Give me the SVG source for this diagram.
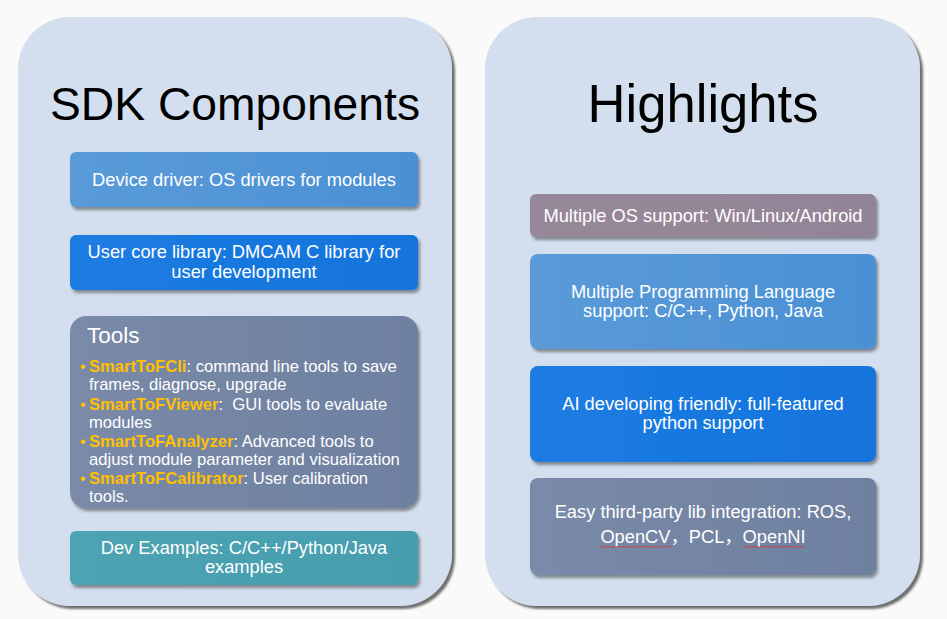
<svg xmlns="http://www.w3.org/2000/svg" width="947" height="619" viewBox="0 0 947 619">
<style>
  .panel{fill:#d3dfee;filter:url(#ps);}
  .box{filter:url(#bs);}
  .t{font-family:"Liberation Sans",Arial,"Noto Sans CJK SC",sans-serif;fill:#fff;font-size:18.3px;text-anchor:middle;}
  .title{font-family:"Liberation Sans",Arial,sans-serif;fill:#000;text-anchor:middle;}
  .tl{font-family:"Liberation Sans",Arial,sans-serif;fill:#fff;font-size:16.6px;}
  .o{fill:#ffc000;font-weight:bold;}
  .sq{fill:none;stroke:#e03030;stroke-width:0.8;}
</style>
<defs>
  <filter id="ps" x="-5%" y="-5%" width="112%" height="112%">
    <feDropShadow dx="3" dy="3" stdDeviation="1.2" flood-color="#404040" flood-opacity="0.75"/>
  </filter>
  <filter id="bs" x="-5%" y="-10%" width="112%" height="130%">
    <feDropShadow dx="2" dy="3" stdDeviation="1.5" flood-color="#303030" flood-opacity="0.5"/>
  </filter>
  <linearGradient id="gLight" x1="0" y1="0" x2="1" y2="0">
    <stop offset="0" stop-color="#5a9bd8"/><stop offset="1" stop-color="#4a90d4"/>
  </linearGradient>
  <linearGradient id="gDark" x1="0" y1="0" x2="1" y2="0">
    <stop offset="0" stop-color="#1c7ce2"/><stop offset="1" stop-color="#1474dc"/>
  </linearGradient>
  <linearGradient id="gGray" x1="0" y1="0" x2="1" y2="0">
    <stop offset="0" stop-color="#7a8aa8"/><stop offset="1" stop-color="#6e80a0"/>
  </linearGradient>
  <linearGradient id="gTeal" x1="0" y1="0" x2="1" y2="0">
    <stop offset="0" stop-color="#4ea3b2"/><stop offset="1" stop-color="#459eae"/>
  </linearGradient>
  <linearGradient id="gMauve" x1="0" y1="0" x2="1" y2="0">
    <stop offset="0" stop-color="#978899"/><stop offset="1" stop-color="#928496"/>
  </linearGradient>
</defs>
<rect width="947" height="619" fill="#fafafa"/>

<g id="sdk-panel">
  <rect class="panel" x="18" y="17" width="434" height="589" rx="52"/>
  <text class="title" x="235" y="120" font-size="47" textLength="370" lengthAdjust="spacingAndGlyphs">SDK Components</text>
</g>
<g id="highlights-panel">
  <rect class="panel" x="485" y="17" width="435" height="589" rx="52"/>
  <text class="title" x="703" y="122" font-size="53" textLength="231" lengthAdjust="spacingAndGlyphs">Highlights</text>
</g>

<g id="device-driver">
  <rect class="box" x="70" y="152" width="348" height="55" rx="6" fill="url(#gLight)"/>
  <text class="t" x="244" y="186">Device driver: OS drivers for modules</text>
</g>
<g id="user-core">
  <rect class="box" x="70" y="235" width="348" height="55" rx="6" fill="url(#gDark)"/>
  <text class="t" x="244" y="258">User core library: DMCAM C library for</text>
  <text class="t" x="244" y="278">user development</text>
</g>
<g id="tools">
  <rect class="box" x="70" y="316" width="348" height="192" rx="16" fill="url(#gGray)"/>
  <text class="tl" x="87" y="343" style="font-size:22.5px">Tools</text>
  <text class="tl o" x="80" y="372" style="font-size:16px;font-weight:normal">•</text>
  <text class="tl o" x="80" y="410" style="font-size:16px;font-weight:normal">•</text>
  <text class="tl o" x="80" y="447" style="font-size:16px;font-weight:normal">•</text>
  <text class="tl o" x="80" y="484" style="font-size:16px;font-weight:normal">•</text>
  <text class="tl" x="89" y="372"><tspan class="o">SmartToFCli</tspan>: command line tools to save</text>
  <text class="tl" x="89" y="390">frames, diagnose, upgrade</text>
  <text class="tl" x="89" y="410" xml:space="preserve"><tspan class="o">SmartToFViewer</tspan>:  GUI tools to evaluate</text>
  <text class="tl" x="89" y="428">modules</text>
  <text class="tl" x="89" y="447"><tspan class="o">SmartToFAnalyzer</tspan>: Advanced tools to</text>
  <text class="tl" x="89" y="465">adjust module parameter and visualization</text>
  <text class="tl" x="89" y="484"><tspan class="o">SmartToFCalibrator</tspan>: User calibration</text>
  <text class="tl" x="89" y="502">tools.</text>
</g>
<g id="dev-examples">
  <rect class="box" x="70" y="531" width="348" height="54" rx="6" fill="url(#gTeal)"/>
  <text class="t" x="244" y="554">Dev Examples: C/C++/Python/Java</text>
  <text class="t" x="244" y="573">examples</text>
</g>

<g id="multi-os">
  <rect class="box" x="530" y="194" width="346" height="43" rx="6" fill="url(#gMauve)"/>
  <text class="t" x="703" y="222">Multiple OS support: Win/Linux/Android</text>
</g>
<g id="multi-lang">
  <rect class="box" x="530" y="254" width="346" height="95" rx="8" fill="url(#gLight)"/>
  <text class="t" x="703" y="298">Multiple Programming Language</text>
  <text class="t" x="703" y="317">support: C/C++, Python, Java</text>
</g>
<g id="ai-friendly">
  <rect class="box" x="530" y="366" width="346" height="96" rx="8" fill="url(#gDark)"/>
  <text class="t" x="703" y="410">AI developing friendly: full-featured</text>
  <text class="t" x="703" y="429">python support</text>
</g>
<g id="third-party">
  <rect class="box" x="530" y="478" width="346" height="97" rx="8" fill="url(#gGray)"/>
  <text class="t" x="703" y="518">Easy third-party lib integration: ROS,</text>
  <text class="t" x="703" y="543">OpenCV，PCL，OpenNI</text>
  <path class="sq" d="M599 546 l1.5 1.5 l1.5 -1.5 l1.5 1.5 l1.5 -1.5 l1.5 1.5 l1.5 -1.5 l1.5 1.5 l1.5 -1.5 l1.5 1.5 l1.5 -1.5 l1.5 1.5 l1.5 -1.5 l1.5 1.5 l1.5 -1.5 l1.5 1.5 l1.5 -1.5 l1.5 1.5 l1.5 -1.5 l1.5 1.5 l1.5 -1.5 l1.5 1.5 l1.5 -1.5 l1.5 1.5 l1.5 -1.5 l1.5 1.5 l1.5 -1.5 l1.5 1.5 l1.5 -1.5 l1.5 1.5 l1.5 -1.5 l1.5 1.5 l1.5 -1.5 l1.5 1.5 l1.5 -1.5 l1.5 1.5 l1.5 -1.5 l1.5 1.5 l1.5 -1.5 l1.5 1.5 l1.5 -1.5 l1.5 1.5 l1.5 -1.5 l1.5 1.5 l1.5 -1.5 l1.5 1.5 l1.5 -1.5 l1.5 1.5 l1.5 -1.5"/>
  <path class="sq" d="M743 546 l1.5 1.5 l1.5 -1.5 l1.5 1.5 l1.5 -1.5 l1.5 1.5 l1.5 -1.5 l1.5 1.5 l1.5 -1.5 l1.5 1.5 l1.5 -1.5 l1.5 1.5 l1.5 -1.5 l1.5 1.5 l1.5 -1.5 l1.5 1.5 l1.5 -1.5 l1.5 1.5 l1.5 -1.5 l1.5 1.5 l1.5 -1.5 l1.5 1.5 l1.5 -1.5 l1.5 1.5 l1.5 -1.5 l1.5 1.5 l1.5 -1.5 l1.5 1.5 l1.5 -1.5 l1.5 1.5 l1.5 -1.5 l1.5 1.5 l1.5 -1.5 l1.5 1.5 l1.5 -1.5 l1.5 1.5 l1.5 -1.5 l1.5 1.5 l1.5 -1.5 l1.5 1.5 l1.5 -1.5 l1.5 1.5"/>
</g>
<g id="connectors"/>
</svg>
